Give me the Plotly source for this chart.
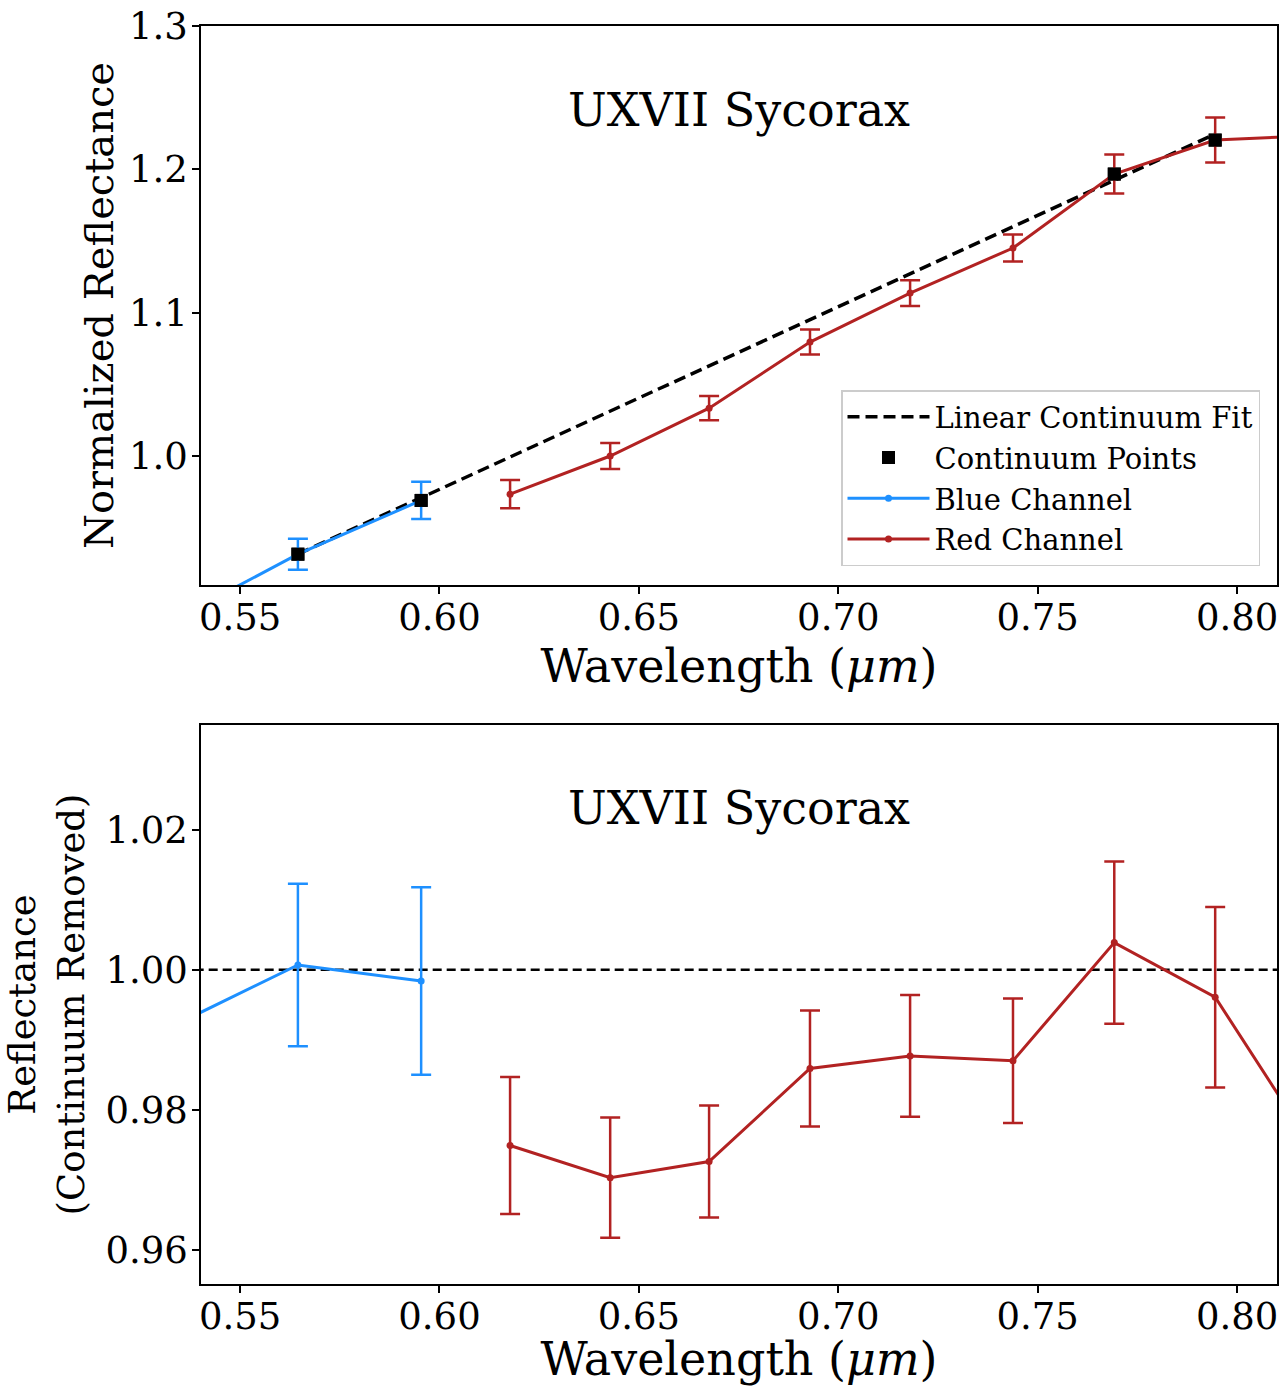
import plotly.graph_objects as go

# ---- data ----
blue_x = [0.535, 0.5645, 0.5954]
blue_top = [0.888, 0.9315, 0.9690]
blue_top_err = [0.011, 0.0108, 0.013]
blue_bot = [0.9925, 1.0007, 0.9984]
blue_bot_err = [0.0115, 0.0116, 0.0134]

red_x = [0.6177, 0.6428, 0.6676, 0.6929, 0.7180, 0.7438, 0.7692, 0.7945, 0.819]
red_top = [0.9734, 1.0000, 1.0334, 1.0795, 1.1137, 1.1451, 1.1967, 1.2204, 1.2235]
red_top_err = [0.0098, 0.0090, 0.0084, 0.0087, 0.0090, 0.0094, 0.0136, 0.0157, 0.016]
red_bot = [0.9749, 0.9703, 0.9726, 0.9859, 0.9877, 0.9870, 1.0039, 0.9961, 0.9745]
red_bot_err = [0.0098, 0.0086, 0.0080, 0.0083, 0.0087, 0.0089, 0.0116, 0.0129, 0.013]

cont_x = [0.5645, 0.5954, 0.7692, 0.7945]
cont_y = [0.9315, 0.9690, 1.1967, 1.2204]

fit_x = [0.5645, 0.7945]
fit_y = [0.9315, 1.2246]

ref_x = [0.50, 0.85]
ref_y = [1.0, 1.0]

title_text = "UXVII Sycorax"
x_ticks = [0.55, 0.60, 0.65, 0.70, 0.75, 0.80]
top_y_ticks = [1.0, 1.1, 1.2, 1.3]
bot_y_ticks = [0.96, 0.98, 1.00, 1.02]

BLUE = "#1E90FF"
RED = "#B22222"
FONT = "DejaVu Serif"
W, H = 1282, 1386

fig = go.Figure()

# top panel
fig.add_trace(go.Scatter(x=fit_x, y=fit_y, mode="lines", name="Linear Continuum Fit",
                         line=dict(color="black", width=3.5, dash="12px,6px"),
                         xaxis="x", yaxis="y", legendrank=1))
fig.add_trace(go.Scatter(x=cont_x, y=cont_y, mode="markers", name="Continuum Points",
                         marker=dict(symbol="square", size=13, color="black"),
                         xaxis="x", yaxis="y", legendrank=2))
fig.add_trace(go.Scatter(x=blue_x, y=blue_top, mode="lines+markers", name="Blue Channel",
                         line=dict(color=BLUE, width=3), marker=dict(size=7, color=BLUE),
                         error_y=dict(type="data", array=blue_top_err, color=BLUE, thickness=2.5, width=10),
                         xaxis="x", yaxis="y", legendrank=3))
fig.add_trace(go.Scatter(x=red_x, y=red_top, mode="lines+markers", name="Red Channel",
                         line=dict(color=RED, width=3), marker=dict(size=7, color=RED),
                         error_y=dict(type="data", array=red_top_err, color=RED, thickness=2.5, width=10),
                         xaxis="x", yaxis="y", legendrank=4))
# redraw continuum squares on top of channel lines
fig.add_trace(go.Scatter(x=cont_x, y=cont_y, mode="markers", showlegend=False,
                         marker=dict(symbol="square", size=13, color="black"),
                         xaxis="x", yaxis="y"))

# bottom panel
fig.add_trace(go.Scatter(x=ref_x, y=ref_y, mode="lines", showlegend=False,
                         line=dict(color="black", width=2.5, dash="9px,5px"),
                         xaxis="x2", yaxis="y2"))
fig.add_trace(go.Scatter(x=blue_x, y=blue_bot, mode="lines+markers", showlegend=False,
                         line=dict(color=BLUE, width=3), marker=dict(size=7, color=BLUE),
                         error_y=dict(type="data", array=blue_bot_err, color=BLUE, thickness=2.5, width=10),
                         xaxis="x2", yaxis="y2"))
fig.add_trace(go.Scatter(x=red_x, y=red_bot, mode="lines+markers", showlegend=False,
                         line=dict(color=RED, width=3), marker=dict(size=7, color=RED),
                         error_y=dict(type="data", array=red_bot_err, color=RED, thickness=2.5, width=10),
                         xaxis="x2", yaxis="y2"))

xdom = [201 / W, 1277 / W]
top_dom = [1 - 585 / H, 1 - 26 / H]
bot_dom = [1 - 1284 / H, 1 - 725 / H]

axis_common = dict(showline=True, mirror=True, linecolor="black", linewidth=1.5,
                   ticks="outside", ticklen=7, tickwidth=1.5, tickcolor="black",
                   showgrid=False, zeroline=False, automargin=False,
                   tickfont=dict(family=FONT, size=37, color="black"))

fig.update_layout(
    width=W, height=H, template="none",
    paper_bgcolor="white", plot_bgcolor="white",
    margin=dict(l=0, r=0, t=0, b=0),
    font=dict(family=FONT, color="black"),
    xaxis=dict(domain=xdom, anchor="y", range=[0.5402, 0.810], tickvals=x_ticks,
               tickformat=".2f", ticklabelstandoff=-8,
               title=dict(text="Wavelength (<i>μm</i>)", font=dict(family=FONT, size=46), standoff=0),
               **axis_common),
    yaxis=dict(domain=top_dom, anchor="x", range=[0.91, 1.30], tickvals=top_y_ticks,
               tickformat=".1f", ticklabelstandoff=-3,
               title=dict(text="Normalized Reflectance", font=dict(family=FONT, size=40), standoff=3),
               **axis_common),
    xaxis2=dict(domain=xdom, anchor="y2", range=[0.5402, 0.810], tickvals=x_ticks,
                tickformat=".2f", ticklabelstandoff=-8,
                title=dict(text="Wavelength (<i>μm</i>)", font=dict(family=FONT, size=46), standoff=0),
                **axis_common),
    yaxis2=dict(domain=bot_dom, anchor="x2", range=[0.9551, 1.035], tickvals=bot_y_ticks,
                tickformat=".2f", ticklabelstandoff=-3,
                title=dict(text="Reflectance<br>(Continuum Removed)", font=dict(family=FONT, size=37), standoff=10),
                **axis_common),
    legend=dict(x=841 / W, y=1 - 390 / H, xanchor="left", yanchor="top",
                bgcolor="white", bordercolor="#cccccc", borderwidth=1.5,
                font=dict(family=FONT, size=29, color="black"),
                itemwidth=82, traceorder="normal"),
    annotations=[
        dict(text=title_text, xref="paper", yref="paper", x=(xdom[0] + xdom[1]) / 2,
             y=1 - 110 / H, xanchor="center", yanchor="middle", showarrow=False,
             font=dict(family=FONT, size=46, color="black")),
        dict(text=title_text, xref="paper", yref="paper", x=(xdom[0] + xdom[1]) / 2,
             y=1 - 808 / H, xanchor="center", yanchor="middle", showarrow=False,
             font=dict(family=FONT, size=46, color="black")),
    ],
)

fig.write_html("out.html", config={"displayModeBar": False},
               post_script="document.body.style.margin='0';document.body.style.overflow='hidden';")
